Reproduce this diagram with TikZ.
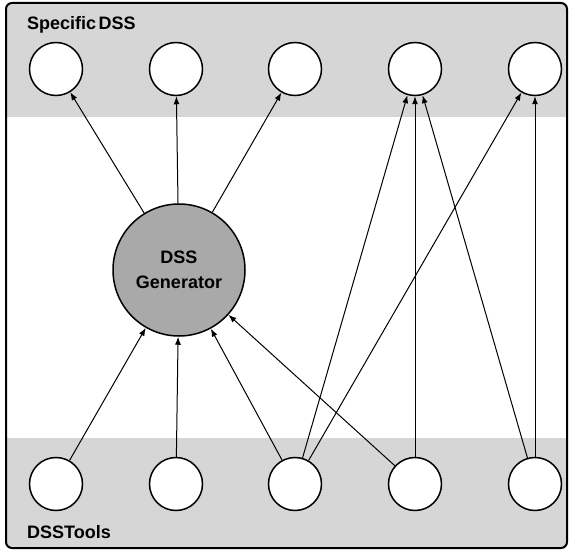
\documentclass[tikz,border=0pt]{standalone}
\usepackage{fontspec}
\setsansfont{Liberation Sans}[WordSpace=0.5]
\usepackage{xcolor}
\usetikzlibrary{arrows.meta}

\definecolor{bandgray}{HTML}{D6D6D6}
\definecolor{gengray}{HTML}{A9A9A9}

\tikzset{
	dss/.style={circle,draw,line width=1.5pt,fill=white,minimum size=53pt,inner sep=0pt},
	gen/.style={circle,draw,line width=1.5pt,fill=gengray,minimum size=132pt,inner sep=0pt,
		align=center,font=\sffamily\bfseries\fontsize{18}{25}\selectfont},
	band/.style={font=\sffamily\bfseries\fontsize{18}{22}\selectfont,anchor=base west,inner sep=0pt}
}

\begin{document}
\begin{tikzpicture}[x=1pt,y=1pt]
		\useasboundingbox (0,0) rectangle (571,550);
		% frame and bands
		\begin{scope}
			\clip[rounded corners=6pt] (6,2) rectangle (567,547);
			\fill[bandgray] (6,433) rectangle (567,547);
			\fill[bandgray] (6,2) rectangle (567,112);
		\end{scope}
		\draw[line width=2pt,rounded corners=6pt] (6,2) rectangle (567,547);
		\node[band] (specific) at (27,520) {Specific DSS};
		\node[band] (tools) at (27,12) {DSSTools};
		%
		\node[dss] (T1) at (56,481) {};
		\node[dss] (T2) at (176,481) {};
		\node[dss] (T3) at (295,481) {};
		\node[dss] (T4) at (415,481) {};
		\node[dss] (T5) at (535,481) {};
		\node[gen] (G) at (179,280) {DSS\\Generator};
		\node[dss] (B1) at (56,66) {};
		\node[dss] (B2) at (176,66) {};
		\node[dss] (B3) at (295,66) {};
		\node[dss] (B4) at (415,66) {};
		\node[dss] (B5) at (535,66) {};
		%
		\path[-{Latex[length=8pt,width=6pt]},line width=1pt]
		(G) edge (T1)
		(G) edge (T2)
		(G) edge (T3)
		(B1) edge (G)
		(B2) edge (G)
		(B3) edge (G)
		(B4) edge (G)
		(B3) edge (T4)
		(B3) edge (T5)
		(B4) edge (T4)
		(B5) edge (T4)
		(B5) edge (T5);
	\end{tikzpicture}
\end{document}
